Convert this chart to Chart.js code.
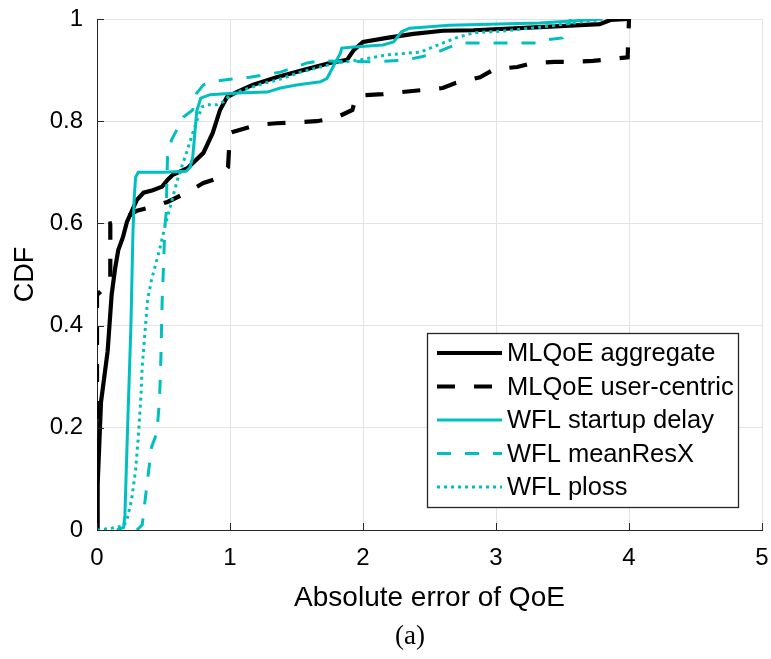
<!DOCTYPE html>
<html>
<head>
<meta charset="utf-8">
<script src="https://cdn.jsdelivr.net/npm/chart.js@4.4.1/dist/chart.umd.min.js"></script>
<style>
  body { margin: 0; background: #fff; }
  #wrap { position: relative; width: 771px; height: 659px; }
  #cap { position: absolute; left: 0; width: 820px; top: 620px; text-align: center;
         font-family: 'Liberation Serif', serif; font-size: 27px; color: #000; }
</style>
</head>
<body>
<div id="wrap">
  <canvas id="cdf"></canvas>
  <div id="cap">(a)</div>
</div>
<script>
// valeurs
const aggX = [0, 0.005, 0.03, 0.045, 0.08, 0.11, 0.135, 0.16, 0.195, 0.225, 0.3, 0.35, 0.42, 0.49, 0.53, 0.57, 0.68, 0.8, 0.87, 0.925, 0.977, 1.05, 1.17, 1.35, 1.55, 1.75, 1.88, 1.93, 2.0, 2.18, 2.38, 2.6, 2.83, 3.33, 3.78, 3.86, 4.0]
const aggY = [0, 0.09, 0.25, 0.28, 0.35, 0.46, 0.51, 0.548, 0.573, 0.603, 0.646, 0.66, 0.665, 0.672, 0.685, 0.695, 0.708, 0.738, 0.777, 0.822, 0.847, 0.857, 0.871, 0.886, 0.9, 0.914, 0.92, 0.939, 0.955, 0.963, 0.971, 0.977, 0.978, 0.984, 0.99, 0.998, 1.0]

const userX = [0, 0, 0.02, 0.1, 0.1, 0.15, 0.22, 0.3, 0.41, 0.53, 0.68, 0.8, 0.925, 0.985, 1.0, 1.02, 1.21, 1.35, 1.5, 1.65, 1.79, 1.92, 1.95, 2.15, 2.29, 2.45, 2.6, 2.7, 2.88, 2.99, 3.16, 3.28, 3.44, 3.58, 3.73, 3.87, 3.99, 4.0]
const userY = [0, 0.46, 0.465, 0.485, 0.6, 0.603, 0.612, 0.625, 0.632, 0.642, 0.661, 0.679, 0.69, 0.71, 0.777, 0.779, 0.793, 0.796, 0.798, 0.8, 0.806, 0.822, 0.85, 0.853, 0.857, 0.861, 0.865, 0.875, 0.886, 0.902, 0.906, 0.914, 0.916, 0.916, 0.918, 0.922, 0.925, 1.0]

const startX = [0.15, 0.2, 0.21, 0.23, 0.255, 0.27, 0.28, 0.29, 0.31, 0.5, 0.67, 0.7, 0.72, 0.75, 0.78, 0.85, 1.05, 1.28, 1.38, 1.5, 1.68, 1.73, 1.79, 1.83, 1.84, 1.93, 2.15, 2.23, 2.29, 2.35, 2.65, 3.33, 3.8]
const startY = [0, 0.005, 0.03, 0.2, 0.4, 0.58, 0.65, 0.69, 0.7, 0.7, 0.702, 0.71, 0.73, 0.82, 0.845, 0.852, 0.855, 0.857, 0.865, 0.871, 0.877, 0.884, 0.914, 0.933, 0.943, 0.945, 0.949, 0.955, 0.975, 0.982, 0.988, 0.992, 1.0]

const resX = [0.3, 0.34, 0.35, 0.38, 0.41, 0.45, 0.47, 0.48, 0.49, 0.5, 0.51, 0.52, 0.53, 0.56, 0.6, 0.65, 0.72, 0.75, 0.8, 0.85, 1.0, 1.15, 1.28, 1.38, 1.49, 1.58, 1.68, 1.85, 2.1, 2.32, 2.44, 2.56, 2.65, 2.73, 3.3, 3.37, 3.5, 3.54, 3.56]
const resY = [0, 0.01, 0.033, 0.098, 0.162, 0.19, 0.254, 0.333, 0.45, 0.515, 0.593, 0.62, 0.73, 0.763, 0.783, 0.808, 0.822, 0.855, 0.871, 0.877, 0.882, 0.886, 0.892, 0.896, 0.906, 0.914, 0.918, 0.917, 0.916, 0.92, 0.926, 0.935, 0.945, 0.953, 0.953, 0.959, 0.963, 0.982, 1.0]

const plossX = [0, 0.1, 0.2, 0.225, 0.26, 0.29, 0.31, 0.33, 0.34, 0.36, 0.38, 0.41, 0.47, 0.51, 0.55, 0.61, 0.68, 0.72, 0.76, 0.79, 0.83, 0.9, 0.95, 1.0, 1.1, 1.25, 1.35, 1.53, 1.68, 1.8, 1.98, 2.18, 2.43, 2.6, 2.7, 2.83, 3.08, 3.33, 3.58, 3.76, 3.8]
const plossY = [0, 0.003, 0.008, 0.02, 0.059, 0.117, 0.18, 0.26, 0.32, 0.385, 0.45, 0.49, 0.548, 0.593, 0.632, 0.69, 0.744, 0.777, 0.808, 0.828, 0.832, 0.832, 0.838, 0.851, 0.861, 0.874, 0.88, 0.896, 0.906, 0.914, 0.92, 0.93, 0.935, 0.953, 0.963, 0.973, 0.977, 0.984, 0.992, 0.998, 1.0]

const noms = ['MLQoE aggregate', 'MLQoE user-centric', 'WFL startup delay', 'WFL meanResX', 'WFL ploss']
const xTicks = [0, 1, 2, 3, 4, 5]
const yTicks = [0, 0.2, 0.4, 0.6, 0.8, 1]

const noir = '#000000'
const cyan = '#00BFBF'
const axe = '#262626'
const police = '"Liberation Sans", Arial, sans-serif'

function pts(xs, ys) { return xs.map((x, i) => ({ x: x, y: ys[i] })) }

const series = [
  { label: noms[0], data: pts(aggX, aggY), borderColor: noir, borderWidth: 4.2, borderDash: [], order: 5 },
  { label: noms[1], data: pts(userX, userY), borderColor: noir, borderWidth: 4.2, borderDash: [18, 19], order: 4 },
  { label: noms[2], data: pts(startX, startY), borderColor: cyan, borderWidth: 3, borderDash: [], order: 3 },
  { label: noms[3], data: pts(resX, resY), borderColor: cyan, borderWidth: 3, borderDash: [14, 14], order: 2 },
  { label: noms[4], data: pts(plossX, plossY), borderColor: cyan, borderWidth: 3, borderDash: [3, 4], order: 1 }
]
series.forEach(s => { s.showLine = true; s.pointRadius = 0; s.tension = 0; s.fill = false })

// petites graduations vers l'interieur + legende dans le cadre
const extras = {
  id: 'extras',
  afterDraw(chart) {
    const ctx = chart.ctx
    const xs = chart.scales.x, ys = chart.scales.y
    const a = chart.chartArea
    ctx.save()
    ctx.strokeStyle = axe
    ctx.lineWidth = 1
    ctx.setLineDash([])
    yTicks.forEach(v => {
      const py = Math.round(ys.getPixelForValue(v)) + 0.5
      ctx.beginPath(); ctx.moveTo(a.left, py); ctx.lineTo(a.left + 7, py); ctx.stroke()
    })
    xTicks.forEach(v => {
      const px = Math.round(xs.getPixelForValue(v)) + 0.5
      ctx.beginPath(); ctx.moveTo(px, a.bottom); ctx.lineTo(px, a.bottom - 7); ctx.stroke()
    })

    const lx = 427, ly = 333, lw = 311, lh = 174
    ctx.fillStyle = '#fff'
    ctx.fillRect(lx, ly, lw, lh)
    ctx.lineWidth = 1.3
    ctx.strokeStyle = axe
    ctx.strokeRect(lx + 0.5, ly + 0.5, lw, lh)
    ctx.font = '25.5px ' + police
    ctx.textBaseline = 'middle'
    ctx.textAlign = 'left'
    chart.data.datasets.forEach((d, i) => {
      const ry = ly + 20 + i * 33.5
      ctx.strokeStyle = d.borderColor
      ctx.lineWidth = d.borderWidth
      ctx.setLineDash(d.borderDash)
      ctx.beginPath(); ctx.moveTo(437, ry); ctx.lineTo(502, ry); ctx.stroke()
      ctx.fillStyle = '#000'
      ctx.fillText(d.label, 507, ry + 1)
    })
    ctx.restore()
  }
}

new Chart(document.getElementById('cdf'), {
  type: 'scatter',
  data: { datasets: series },
  options: {
    responsive: true,
    maintainAspectRatio: false,
    animation: false,
    layout: { padding: { left: 0, top: 19, right: 9, bottom: 0 } },
    plugins: { legend: { display: false }, tooltip: { enabled: false } },
    scales: {
      x: {
        type: 'linear', min: 0, max: 5,
        afterFit: s => { s.height = 129; s.paddingLeft = 0; s.paddingRight = 0 },
        afterBuildTicks: s => { s.ticks = xTicks.map(v => ({ value: v })) },
        grid: { color: '#e3e3e3', lineWidth: 1, drawTicks: false },
        border: { color: axe, width: 1 },
        ticks: { padding: 14, color: '#000', font: { family: police, size: 24 }, callback: v => String(v) },
        title: { display: true, text: 'Absolute error of QoE', color: '#000', padding: { top: 0, bottom: 44 },
                 font: { family: police, size: 28 } }
      },
      y: {
        type: 'linear', min: 0, max: 1,
        afterFit: s => { s.width = 97; s.paddingTop = 0; s.paddingBottom = 0 },
        afterBuildTicks: s => { s.ticks = yTicks.map(v => ({ value: v })) },
        grid: { color: '#e3e3e3', lineWidth: 1, drawTicks: false },
        border: { color: axe, width: 1 },
        ticks: { padding: 14, color: '#000', font: { family: police, size: 24 }, callback: v => String(v) },
        title: { display: true, text: 'CDF', color: '#000', padding: { top: 9, bottom: 0 },
                 font: { family: police, size: 27 } }
      }
    }
  },
  plugins: [extras]
})
</script>
</body>
</html>
